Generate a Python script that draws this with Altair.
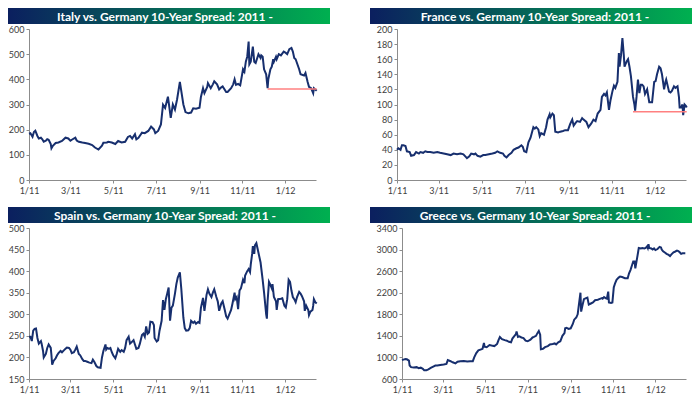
import altair as alt
import pandas as pd

START = "2011-01-01"

italy_days = [0, 2, 5, 7, 9, 12, 14, 17, 19, 21,
              24, 26, 28, 31, 32, 34, 38, 42, 47, 52,
              56, 59, 61, 66, 68, 71, 76, 80, 85, 90,
              94, 99, 104, 106, 111, 113, 118, 123, 127, 132,
              137, 141, 144, 147, 151, 153, 156, 161, 165, 170,
              174, 178, 180, 184, 188, 191, 194, 198, 202, 205,
              208, 211, 215, 220, 223, 227, 231, 234, 238, 243,
              245, 248, 250, 254, 255, 259, 262, 264, 268, 271,
              274, 276, 281, 283, 288, 291, 293, 295, 298, 301,
              305, 307, 309, 311, 313, 314, 316, 319, 321, 323,
              327, 330, 331, 333, 335, 338, 340, 341, 344, 346,
              348, 349, 352, 353, 356, 359, 363, 366, 368, 371,
              374, 376, 378, 380, 385, 387, 392, 394, 397, 399,
              402, 405, 406, 408, 410]
italy_vals = [184, 186, 172, 191, 196, 175, 165, 168, 162, 152,
              156, 162, 160, 143, 126, 136, 147, 149, 155, 168,
              165, 156, 160, 168, 157, 152, 149, 147, 144, 139,
              129, 121, 136, 148, 149, 152, 149, 143, 155, 149,
              152, 171, 175, 165, 182, 162, 168, 188, 186, 195,
              212, 201, 186, 195, 221, 299, 286, 331, 247, 300,
              280, 320, 390, 300, 270, 265, 268, 285, 283, 287,
              330, 365, 345, 370, 385, 365, 380, 392, 380, 360,
              368, 372, 350, 350, 365, 380, 400, 378, 382, 376,
              440, 430, 470, 490, 550, 460, 470, 530, 470, 465,
              500, 485, 495, 490, 440, 420, 365, 400, 440, 450,
              480, 470, 490, 480, 500, 495, 510, 505, 500, 520,
              525, 510, 485, 480, 440, 420, 415, 425, 390, 370,
              365, 345, 365, 360, 355]

france_days = [0, 2, 5, 7, 9, 12, 14, 18, 20, 24,
               27, 31, 33, 37, 40, 43, 47, 52, 57, 61,
               66, 71, 76, 80, 85, 90, 94, 97, 99, 102,
               105, 109, 111, 114, 118, 122, 125, 130, 135, 139,
               142, 146, 150, 152, 155, 158, 162, 165, 169, 172,
               176, 178, 180, 183, 186, 189, 193, 195, 197, 200,
               202, 204, 208, 211, 213, 216, 217, 220, 222, 224,
               228, 231, 235, 238, 242, 245, 248, 250, 253, 255,
               259, 262, 264, 268, 271, 275, 278, 281, 284, 288,
               290, 293, 295, 297, 300, 302, 305, 307, 309, 312,
               314, 315, 317, 319, 321, 322, 325, 327, 329, 331,
               334, 336, 337, 339, 341, 343, 345, 347, 349, 351,
               354, 357, 361, 364, 366, 368, 371, 373, 375, 378,
               380, 381, 383, 385, 387, 389, 392, 394, 397, 399,
               400, 402, 404, 405, 407, 409, 410]
france_vals = [40, 42, 40, 46, 46, 45, 38, 37, 32, 33,
               37, 35, 37, 36, 38, 37, 37, 36, 37, 36,
               35, 34, 33, 35, 34, 35, 34, 31, 29, 31,
               35, 34, 35, 32, 31, 33, 33, 34, 35, 36,
               38, 36, 35, 32, 30, 33, 36, 40, 42, 43,
               46, 44, 38, 37, 50, 56, 70, 68, 70, 67,
               58, 62, 60, 70, 80, 87, 83, 88, 86, 64,
               63, 64, 65, 66, 66, 74, 80, 72, 76, 78,
               77, 82, 80, 77, 70, 75, 80, 78, 88, 93,
               110, 114, 112, 116, 93, 105, 118, 125, 122, 130,
               168, 150, 165, 188, 165, 150, 157, 160, 150, 138,
               110, 100, 92, 110, 133, 115, 126, 126, 124, 114,
               120, 103, 103, 130, 131, 140, 150, 148, 140, 120,
               130, 133, 125, 117, 116, 118, 124, 122, 124, 110,
               96, 96, 100, 86, 100, 98, 96]

spain_days = [0, 2, 4, 6, 8, 10, 12, 14, 17, 18,
              20, 21, 24, 26, 28, 31, 32, 33, 35, 38,
              40, 42, 45, 47, 50, 52, 54, 57, 59, 61,
              64, 66, 68, 71, 73, 76, 78, 80, 83, 86,
              89, 91, 93, 96, 98, 102, 104, 106, 109, 110,
              112, 114, 116, 118, 120, 123, 125, 127, 130, 132,
              135, 137, 139, 142, 144, 146, 149, 151, 153, 156,
              158, 161, 163, 165, 167, 169, 171, 173, 176, 178,
              179, 182, 184, 186, 189, 191, 193, 195, 197, 199,
              201, 203, 205, 208, 210, 212, 215, 217, 220, 222,
              224, 227, 229, 231, 234, 236, 238, 241, 243, 245,
              248, 250, 253, 255, 257, 260, 262, 264, 267, 269,
              271, 274, 276, 279, 281, 283, 286, 288, 290, 293,
              294, 296, 298, 300, 302, 305, 307, 308, 311, 313,
              315, 316, 318, 319, 321, 322, 324, 326, 328, 330,
              333, 335, 338, 339, 340, 342, 344, 346, 347, 349,
              352, 353, 355, 359, 361, 364, 366, 368, 370, 372,
              374, 376, 378, 380, 382, 385, 387, 389, 392, 393,
              395, 398, 399, 401, 404, 405, 406, 408, 410]
spain_vals = [248, 248, 238, 262, 266, 267, 245, 232, 238, 232,
              215, 200, 208, 222, 230, 222, 205, 183, 192, 198,
              205, 210, 215, 212, 217, 220, 223, 222, 218, 210,
              212, 218, 225, 208, 205, 196, 192, 192, 190, 188,
              187, 195, 190, 180, 177, 176, 200, 215, 230, 218,
              222, 220, 222, 212, 205, 198, 208, 220, 213, 217,
              213, 222, 240, 248, 232, 235, 240, 230, 220, 222,
              232, 252, 255, 248, 272, 255, 258, 283, 282, 275,
              245, 237, 240, 262, 285, 333, 310, 335, 348, 362,
              285, 315, 320, 348, 370, 385, 397, 360, 292, 268,
              262, 263, 268, 285, 280, 283, 278, 282, 280, 315,
              338, 308, 345, 358, 348, 340, 350, 358, 340, 330,
              308, 325, 330, 310, 295, 290, 302, 310, 325, 350,
              335, 340, 312, 355, 360, 380, 372, 390, 400, 405,
              398, 415, 440, 458, 440, 460, 465, 450, 435, 420,
              380, 350, 300, 290, 330, 375, 368, 360, 370, 340,
              330, 310, 335, 336, 337, 320, 316, 335, 380, 375,
              355, 340, 335, 328, 340, 352, 348, 342, 330, 308,
              320, 310, 298, 306, 310, 320, 335, 328, 325]

greece_days = [0, 2, 5, 7, 10, 11, 13, 17, 21, 24,
               27, 30, 32, 35, 38, 42, 45, 48, 51, 55,
               60, 64, 66, 70, 73, 77, 80, 84, 89, 94,
               98, 102, 104, 107, 110, 114, 116, 118, 119, 122,
               126, 129, 133, 137, 139, 141, 144, 148, 151, 154,
               157, 159, 162, 164, 165, 167, 169, 172, 175, 178,
               181, 185, 188, 190, 193, 195, 197, 199, 200, 203,
               206, 210, 213, 217, 220, 222, 225, 228, 231, 234,
               235, 237, 240, 243, 246, 248, 251, 253, 255, 257,
               258, 260, 262, 265, 267, 269, 272, 275, 278, 282,
               284, 288, 289, 291, 293, 295, 297, 298, 301, 303,
               305, 307, 309, 312, 314, 317, 321, 325, 327, 329,
               331, 333, 335, 336, 338, 340, 341, 344, 346, 349,
               351, 353, 354, 355, 356, 359, 361, 363, 365, 368,
               371, 373, 374, 376, 379, 381, 384, 386, 388, 391,
               393, 396, 398, 400, 402, 404, 408]
greece_vals = [950, 960, 970, 965, 940, 850, 820, 815, 820, 800,
               810, 790, 760, 760, 780, 810, 830, 850, 850, 860,
               870, 880, 950, 930, 910, 890, 920, 930, 935, 925,
               930, 930, 1000, 1080, 1130, 1150, 1160, 1270, 1200, 1190,
               1230, 1220, 1210, 1250, 1320, 1380, 1340, 1320, 1310, 1290,
               1280, 1350, 1400, 1430, 1480, 1380, 1390, 1370, 1360, 1310,
               1300, 1330, 1370, 1380, 1400, 1450, 1490, 1420, 1150, 1160,
               1190, 1210, 1240, 1250, 1260, 1240, 1280, 1300, 1400, 1450,
               1540, 1550, 1530, 1540, 1620, 1700, 1740, 1800, 2000, 2200,
               1850, 1970, 2080, 2100, 2110, 1980, 2000, 2020, 2060, 2070,
               2080, 2100, 2090, 2120, 2100, 2090, 2220, 2020, 2010, 2020,
               2300, 2380, 2440, 2480, 2500, 2490, 2470, 2470, 2560, 2620,
               2700, 2780, 2780, 2650, 2800, 2950, 3030, 3020, 3030, 3020,
               3030, 3060, 3030, 3100, 3030, 3020, 3000, 3020, 2990, 3010,
               3050, 3040, 3000, 2970, 2940, 2920, 2900, 2880, 2910, 2950,
               2960, 2980, 2970, 2950, 2920, 2930, 2930]

# red "support" lines
italy_support = {"from_day": 340, "to_day": 410, "value": 362}
france_support = {"from_day": 334, "to_day": 410, "value": 90.5}

x_tick_months = [(2011, 1), (2011, 3), (2011, 5), (2011, 7), (2011, 9), (2011, 11), (2012, 1)]

NAVY = "#172f6e"
GRAY = "#8c8c8c"
LABEL = "#404040"
RED = "#ff8080"
FONT = "Lato"


def to_dates(days):
    return pd.Timestamp(START) + pd.to_timedelta(days, unit="D")


def series_df(days, vals):
    assert len(days) == len(vals), (len(days), len(vals))
    return pd.DataFrame({"date": to_dates(days), "value": vals})


x_domain = [alt.DateTime(year=2011, month=1, date=1), alt.DateTime(year=2012, month=2, date=14)]
x_values = [alt.DateTime(year=y, month=m, date=1) for (y, m) in x_tick_months]

grad = alt.Gradient(
    gradient="linear",
    stops=[alt.GradientStop(color="#0b1f5f", offset=0),
           alt.GradientStop(color="#00b050", offset=1)],
    x1=0, x2=1, y1=0, y2=0,
)


def xenc(field):
    return alt.X(f"{field}:T", scale=alt.Scale(domain=x_domain, nice=False),
                 axis=alt.Axis(values=x_values, format="%-m/%y", title=None, grid=False,
                               tickSize=3, labelPadding=3, labelFlush=False, labelOverlap=False,
                               domainColor=GRAY, tickColor=GRAY, labelColor=LABEL,
                               labelFont=FONT, labelFontSize=9))


def yenc(field, lo, hi, step):
    return alt.Y(f"{field}:Q", scale=alt.Scale(domain=[lo, hi], nice=False, zero=False),
                 axis=alt.Axis(values=list(range(lo, hi + 1, step)), format="d", title=None,
                               grid=False, tickSize=3, labelPadding=2,
                               domainColor=GRAY, tickColor=GRAY, labelColor=LABEL,
                               labelFont=FONT, labelFontSize=9))


def panel(title, df, lo, hi, step, width, bar_l, bar_r, text_x, support=None):
    H = 151
    head = pd.DataFrame({"t": [title]})
    bar = alt.Chart(head).mark_rect(fill=grad).encode(
        x=alt.value(bar_l), x2=alt.value(bar_r), y=alt.value(-21), y2=alt.value(-5))
    txt = alt.Chart(head).mark_text(font=FONT, fontWeight="bold", fontSize=12, color="white",
                                    align="center", baseline="middle").encode(
        x=alt.value(text_x), y=alt.value(-12.5), text="t:N")
    line = alt.Chart(df).mark_line(color=NAVY, strokeWidth=2).encode(
        x=xenc("date"), y=yenc("value", lo, hi, step))
    layers = [bar, txt, line]
    if support is not None:
        sdf = pd.DataFrame({"start": to_dates([support["from_day"]]),
                            "end": to_dates([support["to_day"]]),
                            "value": [support["value"]]})
        rule = alt.Chart(sdf).mark_rule(color=RED, strokeWidth=1.5).encode(
            x=xenc("start"), x2="end:T", y=yenc("value", lo, hi, step))
        layers.append(rule)
    return alt.layer(*layers).properties(width=width, height=H)


italy = panel("Italy vs. Germany 10-Year Spread: 2011 -", series_df(italy_days, italy_vals),
              0, 600, 100, 287, -21, 301, 136, italy_support)
france = panel("France vs. Germany 10-Year Spread: 2011 -", series_df(france_days, france_vals),
               0, 200, 20, 289, -27, 295, 138, france_support)
spain = panel("Spain vs. Germany 10-Year Spread: 2011 -", series_df(spain_days, spain_vals),
              150, 500, 50, 287, -21, 301, 136)
greece = panel("Greece vs. Germany 10-Year Spread: 2011 -", series_df(greece_days, greece_vals),
               600, 3400, 400, 284, -32, 290, 133)

row1 = alt.hconcat(italy, france, spacing=40)
row2 = alt.hconcat(spain, greece, spacing=40)
chart = alt.vconcat(row1, row2, spacing=12).properties(padding=0, background="white").configure_view(stroke=None)

chart.save("out.html", embed_options={"renderer": "svg", "actions": False})
